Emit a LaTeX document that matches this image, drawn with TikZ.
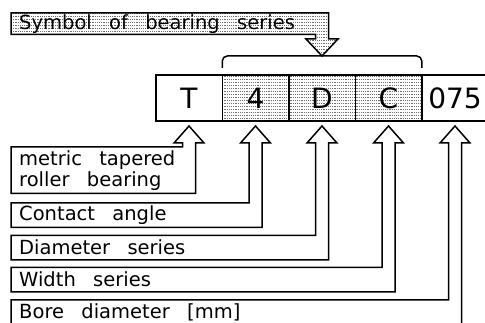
\documentclass[tikz,border=0pt]{standalone}
\usepackage{fontspec}
\setmainfont{DejaVu Sans}[WordSpace=2.8]
\usepackage{tikz}
\usetikzlibrary{positioning,calc,patterns,backgrounds}
\definecolor{screengray}{RGB}{110, 110, 110}
\pgfdeclarepatternformonly{screendots}{\pgfqpoint{-0.5pt}{-0.5pt}}{\pgfqpoint{3pt}{3.5pt}}{\pgfqpoint{2.2pt}{3pt}}{%
  \pgfpathrectangle{\pgfqpoint{0pt}{0pt}}{\pgfqpoint{1.2pt}{0.9pt}}\pgfusepath{fill}}
\tikzset{
  codebox/.style={
    draw,
    line width=1.5pt,
    minimum width=66.5pt,
    minimum height=46pt,
    inner sep=0pt,
    outer sep=0pt,
    font=\fontsize{28}{30}\selectfont
  },
  seriesfill/.style={
    pattern=screendots,
    pattern color=screengray
  },
  labeltext/.style={
    anchor=north west,
    align=left,
    inner xsep=8pt,
    inner ysep=0pt,
    minimum height=24pt,
    font=\fontsize{19.5}{21}\selectfont
  },
  calloutline/.style={
    line width=1.5pt,
    line join=miter
  }
}
% label box whose right side runs up into a hollow arrow
\newcommand{\upcallout}[2]{%
  \coordinate (tip) at ([yshift=-5pt]#2.south);
  \coordinate (hl) at ([xshift=-15pt,yshift=-22pt]#2.south);
  \coordinate (hr) at ([xshift=15pt,yshift=-22pt]#2.south);
  \coordinate (sl) at ([xshift=-6.5pt,yshift=-22pt]#2.south);
  \coordinate (sr) at ([xshift=6.5pt,yshift=-22pt]#2.south);
  \draw[calloutline] (#1.north west) -- (sl |- #1.north) -- (sl) -- (hl) -- (tip)
    -- (hr) -- (sr) -- (sr |- #1.south) -- (#1.south west) -- cycle;
}
\begin{document}
\begin{tikzpicture}[x=1pt, y=-1pt]
  \useasboundingbox (0,0) rectangle (485,323);

  % designation
  \node[codebox] (t) at (189,98) {T};
  \node[codebox, seriesfill, right=0pt of t] (four) {4};
  \node[codebox, seriesfill, right=0pt of four] (d) {D};
  \node[codebox, seriesfill, right=0pt of d] (c) {C};
  \node[codebox, right=0pt of c] (bore) {075};

  % brace over the series symbol
  \coordinate (bl) at ([yshift=7pt]four.north west);
  \coordinate (br) at ([yshift=7pt]c.north east);
  \coordinate (bt) at ([yshift=19pt]d.north);
  \draw[calloutline, rounded corners=5pt] (bl) |- (bt) -| (br);

  % series callout
  \node[labeltext, minimum height=21pt] (series) at (11,13) {Symbol of bearing series};
  \coordinate (sh) at ([yshift=17pt]bt);
  \coordinate (ar) at ([xshift=6.5pt]sh);
  \coordinate (al) at ([xshift=-6.5pt]sh);
  \begin{scope}[on background layer]
    \draw[calloutline, seriesfill] (series.north west) -- (ar |- series.north) -- (ar)
      -- ([xshift=16pt]sh) -- (bt) -- ([xshift=-16pt]sh) -- (al) -- (al |- series.south)
      -- (series.south west) -- cycle;
  \end{scope}

  % meanings
  \node[labeltext, minimum height=46pt] (kind) at (11,147) {metric tapered\\roller bearing};
  \node[labeltext] (angle) at (11,203) {Contact angle};
  \node[labeltext] (diam) at (11,235.5) {Diameter series};
  \node[labeltext] (width) at (11,267.5) {Width series};
  \node[labeltext] (boresize) at (11,300) {Bore diameter [mm]};

  \upcallout{kind}{t}
  \upcallout{angle}{four}
  \upcallout{diam}{d}
  \upcallout{width}{c}
  \upcallout{boresize}{bore}
\end{tikzpicture}
\end{document}
